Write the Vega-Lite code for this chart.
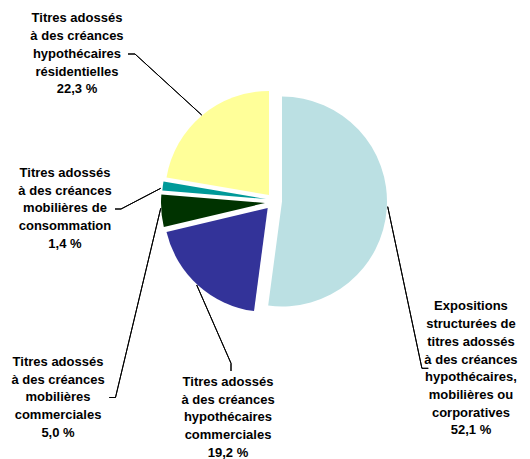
{
  "$schema": "https://vega.github.io/schema/vega-lite/v6.json",
  "width": 516,
  "height": 402,
  "padding": {"left": 14, "top": 0, "right": 0, "bottom": 57},
  "autosize": {"type": "none"},
  "background": "white",
  "config": {"view": {"stroke": null}, "text": {"font": "Liberation Sans", "fontWeight": "bold", "fontSize": 13, "lineHeight": 17.7, "lineBreak": "\n", "align": "center", "baseline": "middle", "color": "black"}},
  "data": {
    "values": [
      {"key": "ES", "value": 52.1, "label": "Expositions\nstructurées de\ntitres adossés\nà des créances\nhypothécaires,\nmobilières ou\ncorporatives\n52,1 %"},
      {"key": "CMBS", "value": 19.2, "label": "Titres adossés\nà des créances\nhypothécaires\ncommerciales\n19,2 %"},
      {"key": "ABSCOM", "value": 5.0, "label": "Titres adossés\nà des créances\nmobilières\ncommerciales\n5,0 %"},
      {"key": "ABSCONSO", "value": 1.4, "label": "Titres adossés\nà des créances\nmobilières de\nconsommation\n1,4 %"},
      {"key": "RMBS", "value": 22.3, "label": "Titres adossés\nà des créances\nhypothécaires\nrésidentielles\n22,3 %"}
    ]
  },
  "transform": [{"stack": "value", "groupby": [], "as": ["v0", "v1"]}],
  "layer": [
    {
      "transform": [{"filter": "datum.key === 'ES'"}],
      "mark": {"type": "arc", "outerRadius": 105, "xOffset": 10, "yOffset": 0.5},
      "encoding": {
        "theta": {"field": "v0", "type": "quantitative", "scale": {"domain": [0, 100]}},
        "theta2": {"field": "v1"},
        "color": {"field": "key", "type": "nominal", "legend": null, "scale": {"domain": ["ES", "CMBS", "ABSCOM", "ABSCONSO", "RMBS"], "range": ["#BBE0E3", "#333399", "#003300", "#009999", "#FFFF99"]}}
      }
    },
    {
      "transform": [{"filter": "datum.key === 'CMBS'"}],
      "mark": {"type": "arc", "outerRadius": 104, "xOffset": -4.3, "yOffset": 7},
      "encoding": {
        "theta": {"field": "v0", "type": "quantitative", "scale": {"domain": [0, 100]}},
        "theta2": {"field": "v1"},
        "color": {"field": "key", "type": "nominal", "legend": null}
      }
    },
    {
      "transform": [{"filter": "datum.key === 'ABSCOM'"}],
      "mark": {"type": "arc", "outerRadius": 104, "xOffset": -7, "yOffset": 2},
      "encoding": {
        "theta": {"field": "v0", "type": "quantitative", "scale": {"domain": [0, 100]}},
        "theta2": {"field": "v1"},
        "color": {"field": "key", "type": "nominal", "legend": null}
      }
    },
    {
      "transform": [{"filter": "datum.key === 'ABSCONSO'"}],
      "mark": {"type": "arc", "outerRadius": 104, "xOffset": -6, "yOffset": -2},
      "encoding": {
        "theta": {"field": "v0", "type": "quantitative", "scale": {"domain": [0, 100]}},
        "theta2": {"field": "v1"},
        "color": {"field": "key", "type": "nominal", "legend": null}
      }
    },
    {
      "transform": [{"filter": "datum.key === 'RMBS'"}],
      "mark": {"type": "arc", "outerRadius": 104, "xOffset": -3, "yOffset": -6},
      "encoding": {
        "theta": {"field": "v0", "type": "quantitative", "scale": {"domain": [0, 100]}},
        "theta2": {"field": "v1"},
        "color": {"field": "key", "type": "nominal", "legend": null}
      }
    },
    {
      "transform": [{"filter": "datum.key === 'RMBS'"}],
      "mark": {"type": "arc", "outerRadius": 200.3, "innerRadius": 109.9, "thetaOffset": 0.5712, "theta2Offset": 0.5712, "xOffset": 10.8, "yOffset": -11.8, "fill": "transparent", "stroke": "black", "strokeWidth": 1},
      "encoding": {
        "theta": {"field": "v0", "type": "quantitative", "scale": {"domain": [0, 100]}},
        "theta2": {"field": "v0"}
      }
    },
    {
      "transform": [{"filter": "datum.key === 'ABSCONSO'"}],
      "mark": {"type": "arc", "outerRadius": 137.6, "innerRadius": 92.8, "thetaOffset": -0.5623, "theta2Offset": -0.5623, "xOffset": -29, "yOffset": -55.6, "fill": "transparent", "stroke": "black", "strokeWidth": 1},
      "encoding": {
        "theta": {"field": "v0", "type": "quantitative", "scale": {"domain": [0, 100]}},
        "theta2": {"field": "v0"}
      }
    },
    {
      "transform": [{"filter": "datum.key === 'ABSCOM'"}],
      "mark": {"type": "arc", "outerRadius": 227.5, "innerRadius": 33, "thetaOffset": -1.1037, "theta2Offset": -1.1037, "xOffset": -103.6, "yOffset": -24.8, "fill": "transparent", "stroke": "black", "strokeWidth": 1},
      "encoding": {
        "theta": {"field": "v0", "type": "quantitative", "scale": {"domain": [0, 100]}},
        "theta2": {"field": "v0"}
      }
    },
    {
      "transform": [{"filter": "datum.key === 'CMBS'"}],
      "mark": {"type": "arc", "outerRadius": 132.2, "innerRadius": 46.7, "thetaOffset": -0.5449, "theta2Offset": -0.5449, "xOffset": -94.05, "yOffset": 41.2, "fill": "transparent", "stroke": "black", "strokeWidth": 1},
      "encoding": {
        "theta": {"field": "v0", "type": "quantitative", "scale": {"domain": [0, 100]}},
        "theta2": {"field": "v0"}
      }
    },
    {
      "transform": [{"filter": "datum.key === 'ES'"}],
      "mark": {"type": "arc", "outerRadius": 194.7, "innerRadius": 29.5, "thetaOffset": 2.933, "theta2Offset": 2.933, "xOffset": 109.6, "yOffset": -23.2, "fill": "transparent", "stroke": "black", "strokeWidth": 1},
      "encoding": {
        "theta": {"field": "v0", "type": "quantitative", "scale": {"domain": [0, 100]}},
        "theta2": {"field": "v0"}
      }
    },
    {
      "transform": [{"filter": "datum.key === 'RMBS'"}],
      "mark": {"type": "arc", "outerRadius": 12, "innerRadius": 5, "thetaOffset": -3.3112, "theta2Offset": -3.3112, "xOffset": -149, "yOffset": -147, "fill": "transparent", "stroke": "black", "strokeWidth": 1},
      "encoding": {
        "theta": {"field": "v0", "type": "quantitative", "scale": {"domain": [0, 100]}},
        "theta2": {"field": "v0"}
      }
    },
    {
      "transform": [{"filter": "datum.key === 'ABSCONSO'"}],
      "mark": {"type": "arc", "outerRadius": 11, "innerRadius": 5, "thetaOffset": -3.2233, "theta2Offset": -3.2233, "xOffset": -162, "yOffset": 8, "fill": "transparent", "stroke": "black", "strokeWidth": 1},
      "encoding": {
        "theta": {"field": "v0", "type": "quantitative", "scale": {"domain": [0, 100]}},
        "theta2": {"field": "v0"}
      }
    },
    {
      "transform": [{"filter": "datum.key === 'ABSCOM'"}],
      "mark": {"type": "arc", "outerRadius": 11.5, "innerRadius": 5.3, "thetaOffset": -2.9091, "theta2Offset": -2.9091, "xOffset": -168, "yOffset": 196.5, "fill": "transparent", "stroke": "black", "strokeWidth": 1},
      "encoding": {
        "theta": {"field": "v0", "type": "quantitative", "scale": {"domain": [0, 100]}},
        "theta2": {"field": "v0"}
      }
    },
    {
      "transform": [{"filter": "datum.key === 'ES'"}],
      "mark": {"type": "arc", "outerRadius": 12.3, "innerRadius": 5.9, "thetaOffset": 1.5708, "theta2Offset": 1.5708, "xOffset": 144, "yOffset": 167.3, "fill": "transparent", "stroke": "black", "strokeWidth": 1},
      "encoding": {
        "theta": {"field": "v0", "type": "quantitative", "scale": {"domain": [0, 100]}},
        "theta2": {"field": "v0"}
      }
    },
    {
      "transform": [{"filter": "datum.key === 'CMBS'"}],
      "mark": {"type": "arc", "outerRadius": 14, "innerRadius": 6.3, "thetaOffset": -0.132, "theta2Offset": -0.132, "xOffset": -41, "yOffset": 156, "fill": "transparent", "stroke": "black", "strokeWidth": 1},
      "encoding": {
        "theta": {"field": "v0", "type": "quantitative", "scale": {"domain": [0, 100]}},
        "theta2": {"field": "v0"}
      }
    },
    {
      "transform": [{"filter": "datum.key === 'RMBS'"}],
      "mark": {"type": "text", "radius": 267.1, "thetaOffset": 0.5826},
      "encoding": {
        "theta": {"field": "v0", "type": "quantitative", "scale": {"domain": [0, 100]}},
        "text": {"field": "label"}
      }
    },
    {
      "transform": [{"filter": "datum.key === 'ABSCONSO'"}],
      "mark": {"type": "text", "radius": 208.9, "thetaOffset": 0.0527},
      "encoding": {
        "theta": {"field": "v0", "type": "quantitative", "scale": {"domain": [0, 100]}},
        "text": {"field": "label"}
      }
    },
    {
      "transform": [{"filter": "datum.key === 'ABSCOM'"}],
      "mark": {"type": "text", "radius": 267.8, "thetaOffset": -0.4126},
      "encoding": {
        "theta": {"field": "v0", "type": "quantitative", "scale": {"domain": [0, 100]}},
        "text": {"field": "label"}
      }
    },
    {
      "transform": [{"filter": "datum.key === 'CMBS'"}],
      "mark": {"type": "text", "radius": 186.3, "thetaOffset": 0.1065},
      "encoding": {
        "theta": {"field": "v0", "type": "quantitative", "scale": {"domain": [0, 100]}},
        "text": {"field": "label"}
      }
    },
    {
      "transform": [{"filter": "datum.key === 'ES'"}],
      "mark": {"type": "text", "radius": 225.2, "thetaOffset": 2.0583},
      "encoding": {
        "theta": {"field": "v0", "type": "quantitative", "scale": {"domain": [0, 100]}},
        "text": {"field": "label"}
      }
    }
  ]
}
